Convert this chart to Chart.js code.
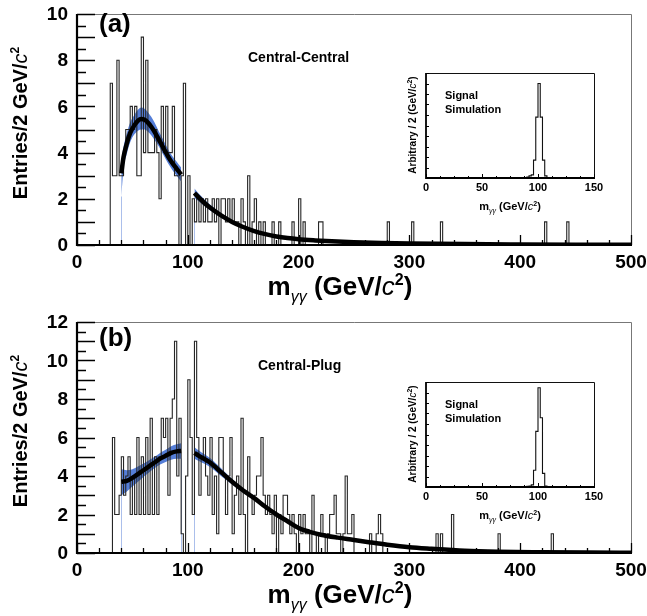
<!DOCTYPE html>
<html>
<head>
<meta charset="utf-8">
<script src="https://cdn.jsdelivr.net/npm/chart.js@4.4.0/dist/chart.umd.min.js"></script>
<style>
  html, body { margin: 0; padding: 0; background: #fff; }
  #wrap { position: relative; width: 647px; height: 616px; }
  canvas { position: absolute; }
</style>
</head>
<body>
<div id="wrap">
  <canvas id="mainA" width="647" height="308" style="left:0;top:0"></canvas>
  <canvas id="mainB" width="647" height="308" style="left:0;top:308px"></canvas>
  <canvas id="insetA" width="215" height="155" style="left:390px;top:65px"></canvas>
  <canvas id="insetB" width="215" height="155" style="left:390px;top:374px"></canvas>
</div>
<script>
// ---- data: panel (a) Central-Central, 2 GeV bins ----
const startA = 30;
const countsA = [7, 3, 3, 8, 3, 3, 4, 5, 5, 6, 5, 6, 3, 3, 9, 4, 8, 4, 4, 4,
                 5, 4, 2, 6, 4, 6, 4, 4, 6, 3, 3, 0, 3, 7, 0, 3, 0, 2, 1, 2,
                 1, 2, 1, 2, 1, 1, 2, 1, 2, 0, 2, 2, 1, 2, 1, 2, 1, 1, 0, 2,
                 1, 0, 3, 0, 1, 2, 0, 1, 0, 1, 0, 0, 0, 1, 0, 0, 1, 0, 0, 0,
                 0, 0, 1, 0, 0, 2, 0, 1, 0, 0, 0, 0, 0, 0, 1, 1];
const tailMassA = [280, 302, 328, 422, 442];
const tailCountA = [1, 1, 1, 1, 1];
const fitXA = [40, 42, 45, 48, 52, 55, 58, 61, 64, 67, 70, 74, 78, 82, 86, 90, 94, 100,
               106, 110, 115, 120, 130, 140, 150, 160, 170, 180, 190, 200, 215, 230, 250, 275, 300, 350, 400, 450, 500];
const fitYA = [3.1, 3.8, 4.4, 4.85, 5.2, 5.38, 5.45, 5.42, 5.3, 5.12, 4.9, 4.55, 4.2, 3.85, 3.55, 3.3, 3.05, null,
               2.25, 2.05, 1.82, 1.62, 1.28, 1.0, 0.78, 0.6, 0.47, 0.37, 0.3, 0.25, 0.2, 0.16, 0.12, 0.09, 0.07, 0.04, 0.025, 0.015, 0.01];
const bandXA = [40, 42, 45, 48, 52, 55, 58, 61, 64, 67, 70, 74, 78, 82, 86, 90, 94, 100, 106, 110, 120, 130, 140, 150];
const bandHiA = [3.6, 4.25, 4.85, 5.3, 5.65, 5.85, 5.95, 5.9, 5.75, 5.55, 5.3, 4.9, 4.55, 4.17, 3.85, 3.6, 3.35, null, 2.45, 2.22, 1.75, 1.37, 1.06, 0.83];
const bandLoA = [2.1, 3.3, 3.95, 4.45, 4.8, 4.95, 5.0, 5.0, 4.9, 4.75, 4.55, 4.25, 3.9, 3.55, 3.25, 3.0, 2.75, null, 2.05, 1.88, 1.5, 1.19, 0.94, 0.73];

// ---- data: panel (b) Central-Plug ----
const startB = 32;
const countsB = [6, 2, 2, 3, 5, 3, 4, 5, 2, 4, 2, 6, 2, 5, 2, 6, 2, 7, 2, 5,
                 2, 5, 7, 6, 7, 3, 7, 8, 11, 4, 7, 1, 0, 4, 9, 6, 2, 11, 6, 3,
                 5, 6, 4, 3, 6, 2, 4, 1, 6, 6, 4, 2, 4, 6, 1, 3, 4, 2, 7, 2,
                 0, 5, 3, 2, 3, 4, 4, 6, 3, 2, 3, 2, 1, 3, 0, 2, 1, 3, 3, 2,
                 1, 2, 1, 0, 2, 1, 2, 1, 1, 0, 3, 1, 0, 1, 2, 1, 0, 1, 2, 2,
                 3, 1, 1, 0, 1, 4, 1, 1, 2, 0, 0, 0, 0, 0, 0, 0, 1, 0, 0, 1,
                 2, 1];
const tailMassB = [324, 328, 338, 380, 428];
const tailCountB = [1, 1, 2, 1, 1];
const fitXB = [40, 45, 50, 55, 60, 65, 70, 75, 80, 85, 90, 94, 100,
               106, 110, 120, 130, 140, 150, 160, 170, 180, 190, 200, 210, 220, 235, 250, 265, 280, 300, 320, 350, 380, 420, 460, 500];
const fitYB = [3.7, 3.75, 3.9, 4.1, 4.3, 4.5, 4.7, 4.9, 5.05, 5.2, 5.28, 5.3, null,
               5.2, 5.05, 4.7, 4.2, 3.7, 3.25, 2.85, 2.4, 2.0, 1.65, 1.3, 1.1, 0.95, 0.8, 0.68, 0.55, 0.43, 0.3, 0.22, 0.12, 0.07, 0.04, 0.02, 0.01];
const bandXB = [40, 45, 50, 55, 60, 65, 70, 75, 80, 85, 90, 94, 100, 106, 110, 120, 130, 140, 150, 160];
const bandHiB = [4.35, 4.3, 4.35, 4.5, 4.65, 4.82, 5.0, 5.2, 5.37, 5.55, 5.65, 5.7, null, 5.5, 5.32, 4.93, 4.4, 3.84, 3.37, 2.95];
const bandLoB = [3.0, 3.2, 3.45, 3.7, 3.95, 4.18, 4.4, 4.6, 4.73, 4.85, 4.9, 4.9, null, 4.9, 4.78, 4.47, 4.0, 3.56, 3.13, 2.75];

// ---- data: signal simulation insets ----
const sigStart = 88;
const sigA = [0.005, 0.01, 0.02, 0.03, 0.17, 0.58, 0.9, 0.58, 0.17, 0.02, 0.005];
const sigB = [0.003, 0.006, 0.01, 0.02, 0.16, 0.53, 0.945, 0.66, 0.13, 0.01, 0.003];

const FAM = '"Liberation Sans", Arial, Helvetica, sans-serif';
const BAND = 'rgba(62,108,210,0.88)';

function histPoints(start, counts, tailMass, tailCount) {
  const bins = new Array(250).fill(0);
  counts.forEach((c, i) => { bins[start / 2 + i] = c; });
  tailMass.forEach((m, i) => { bins[m / 2] = tailCount[i]; });
  const pts = bins.map((c, i) => ({ x: i * 2, y: c }));
  pts.push({ x: 500, y: 0 });
  return pts;
}

function sigPoints(vals) {
  const pts = [{ x: 0, y: 0 }, { x: sigStart - 2, y: 0 }];
  vals.forEach((v, i) => pts.push({ x: sigStart + i * 2, y: v }));
  pts.push({ x: sigStart + vals.length * 2, y: 0 }, { x: 150, y: 0 });
  return pts;
}

function xy(xs, ys) {
  return xs.map((x, i) => ({ x: x, y: ys[i] }));
}

// ends of each band segment (where the fit range starts / stops)
function bandEdges(xs, ys) {
  const out = [];
  ys.forEach((v, i) => {
    if (v === null) return;
    if (i === 0 || ys[i - 1] === null) out.push({ x: xs[i], y: v });
    else if (ys[i + 1] === null) out.push({ x: xs[i], y: v });
  });
  return out;
}

// draw text made of pieces with different fonts / offsets
function richText(ctx, parts, x, y, align) {
  let w = 0;
  parts.forEach(p => { ctx.font = p[1]; w += ctx.measureText(p[0]).width; });
  let cx = align === 'center' ? x - w / 2 : x;
  ctx.textAlign = 'left';
  ctx.textBaseline = 'alphabetic';
  parts.forEach(p => {
    ctx.font = p[1];
    ctx.fillText(p[0], cx, y + (p[2] || 0));
    cx += ctx.measureText(p[0]).width;
  });
}

function massTitle(size) {
  const s = Math.round(size * 0.62);
  return [
    ['m', 'bold ' + size + 'px ' + FAM],
    ['\u03B3\u03B3', 'italic ' + s + 'px ' + FAM, size * 0.28],
    [' (GeV/', 'bold ' + size + 'px ' + FAM],
    ['c', 'italic ' + size + 'px ' + FAM],
    ['2', 'bold ' + s + 'px ' + FAM, -size * 0.38],
    [')', 'bold ' + size + 'px ' + FAM]
  ];
}

// ROOT-like frame, ticks and labels
const rootFrame = {
  id: 'rootFrame',
  beforeDatasetsDraw(chart, args, o) {
    if (!o.edges) return;
    const { ctx, scales: { x, y } } = chart;
    ctx.save();
    ctx.strokeStyle = 'rgba(150,175,230,0.8)';
    ctx.lineWidth = 1;
    ctx.beginPath();
    o.edges.forEach(e => {
      const px = Math.round(x.getPixelForValue(e.x)) + 0.5;
      ctx.moveTo(px, y.getPixelForValue(0));
      ctx.lineTo(px, y.getPixelForValue(e.y));
    });
    ctx.stroke();
    ctx.restore();
  },
  afterDatasetsDraw(chart, args, o) {
    const { ctx, chartArea: a, scales: { x, y } } = chart;
    ctx.save();
    ctx.strokeStyle = o.frameColor;
    ctx.lineWidth = 1;
    ctx.beginPath();
    ctx.moveTo(a.left, a.top + 0.5);
    ctx.lineTo(a.right + 0.5, a.top + 0.5);
    ctx.lineTo(a.right + 0.5, a.bottom);
    ctx.stroke();
    ctx.strokeStyle = '#000';
    ctx.lineWidth = o.tickWidth;
    ctx.beginPath();
    for (let k = 0; k * o.yStep <= y.max + 1e-9; k++) {
      const v = k * o.yStep;
      const py = Math.round(y.getPixelForValue(v)) + 0.5;
      const len = (k % o.yMajorEvery === 0) ? o.yLong : o.yShort;
      ctx.moveTo(a.left, py);
      ctx.lineTo(a.left + len, py);
    }
    for (let k = 0; k * o.xStep <= x.max + 1e-9; k++) {
      const v = k * o.xStep;
      const px = Math.round(x.getPixelForValue(v)) + 0.5;
      const len = (k % o.xMajorEvery === 0) ? o.xLong : o.xShort;
      ctx.moveTo(px, a.bottom);
      ctx.lineTo(px, a.bottom - len);
    }
    ctx.stroke();
    ctx.lineWidth = o.axisWidth;
    ctx.beginPath();
    ctx.moveTo(a.left, a.top);
    ctx.lineTo(a.left, a.bottom);
    ctx.lineTo(a.right + 1, a.bottom);
    ctx.stroke();
    ctx.restore();
  },
  afterDraw(chart, args, o) {
    const { ctx, chartArea: a, scales: { x, y } } = chart;
    ctx.save();
    ctx.fillStyle = '#000';
    // tick labels from the scales' own ticks
    ctx.font = 'bold ' + o.tickFont + 'px ' + FAM;
    ctx.textAlign = 'center';
    ctx.textBaseline = 'middle';
    x.ticks.forEach(t => ctx.fillText(String(t.value), x.getPixelForValue(t.value), a.bottom + o.xLabelGap));
    if (o.yLabels) {
      ctx.textAlign = 'right';
      y.ticks.forEach(t => ctx.fillText(String(t.value), a.left - o.yLabelGap, y.getPixelForValue(t.value) + 1));
    }
    (o.texts || []).forEach(t => {
      ctx.font = t.font;
      ctx.textAlign = 'left';
      ctx.textBaseline = 'alphabetic';
      ctx.fillText(t.text, t.x, t.y);
    });
    if (o.xTitle) {
      richText(ctx, massTitle(o.xTitle.size), o.xTitle.x, o.xTitle.y, 'center');
    }
    if (o.yTitle) {
      ctx.save();
      ctx.translate(o.yTitle.x, o.yTitle.y);
      ctx.rotate(-Math.PI / 2);
      richText(ctx, o.yTitle.parts, 0, 0, 'center');
      ctx.restore();
    }
    ctx.restore();
  }
};

function mainChart(id, hist, fitX, fitY, bandX, hi, lo, ymax, label, labelY, channel, channelX) {
  return new Chart(document.getElementById(id), {
    type: 'line',
    data: {
      datasets: [
        { data: xy(fitX, fitY), borderColor: '#000', borderWidth: 4.5, pointRadius: 0, fill: false,
          cubicInterpolationMode: 'monotone', spanGaps: false },
        { data: hist, stepped: true, borderColor: '#262626', borderWidth: 1.1, pointRadius: 0, fill: false },
        { data: xy(bandX, hi), borderWidth: 0, borderColor: 'rgba(0,0,0,0)', pointRadius: 0,
          backgroundColor: BAND, fill: '+1', cubicInterpolationMode: 'monotone' },
        { data: xy(bandX, lo), borderWidth: 0, borderColor: 'rgba(0,0,0,0)', pointRadius: 0, fill: false,
          cubicInterpolationMode: 'monotone' }
      ]
    },
    options: {
      responsive: false,
      animation: false,
      layout: { padding: { top: 14, right: 16, left: 0, bottom: 0 } },
      plugins: {
        legend: { display: false },
        tooltip: { enabled: false },
        rootFrame: {
          frameColor: '#777', tickWidth: 1.3, axisWidth: 2.2,
          yStep: 0.5, yMajorEvery: 2, yLong: 18, yShort: 9,
          xStep: 20, xMajorEvery: 5, xLong: 10, xShort: 5,
          tickFont: 19, xLabelGap: 18, yLabels: true, yLabelGap: 9,
          edges: bandEdges(bandX, lo),
          texts: [
            { text: label, x: 99, y: labelY, font: 'bold 26px ' + FAM },
            { text: channel, x: channelX, y: 62, font: 'bold 14px ' + FAM }
          ],
          xTitle: { size: 26, x: 340, y: 295 },
          yTitle: { x: 27, y: 123, parts: [
            ['Entries/2 GeV/', 'bold 20px ' + FAM],
            ['c', 'italic 20px ' + FAM],
            ['2', 'bold 12px ' + FAM, -8]
          ] }
        }
      },
      scales: {
        x: {
          type: 'linear', min: 0, max: 500,
          grid: { display: false, drawTicks: false }, border: { display: false },
          ticks: { display: false, stepSize: 100 },
          afterFit: s => { s.height = 63; }
        },
        y: {
          min: 0, max: ymax,
          grid: { display: false, drawTicks: false }, border: { display: false },
          ticks: { display: false, stepSize: 2 },
          afterFit: s => { s.width = 77; }
        }
      }
    },
    plugins: [rootFrame]
  });
}

function insetChart(id, vals) {
  return new Chart(document.getElementById(id), {
    type: 'line',
    data: {
      datasets: [
        { data: sigPoints(vals), stepped: true, borderColor: '#111', borderWidth: 1.1, pointRadius: 0, fill: false }
      ]
    },
    options: {
      responsive: false,
      animation: false,
      layout: { padding: { top: 8, right: 11, left: 0, bottom: 0 } },
      plugins: {
        legend: { display: false },
        tooltip: { enabled: false },
        rootFrame: {
          frameColor: '#111', tickWidth: 1, axisWidth: 1.8,
          yStep: 0.1, yMajorEvery: 100, yLong: 3, yShort: 3,
          xStep: 12.5, xMajorEvery: 4, xLong: 4, xShort: 2,
          tickFont: 11, xLabelGap: 10, yLabels: false,
          texts: [
            { text: 'Signal', x: 55, y: 34, font: 'bold 11px ' + FAM },
            { text: 'Simulation', x: 55, y: 48, font: 'bold 11px ' + FAM }
          ],
          xTitle: { size: 11, x: 120, y: 145 },
          yTitle: { x: 26, y: 60, parts: [
            ['Arbitrary / 2 (GeV/', 'bold 10px ' + FAM],
            ['c', 'italic 10px ' + FAM],
            ['2', 'bold 7px ' + FAM, -4],
            [')', 'bold 10px ' + FAM]
          ] }
        }
      },
      scales: {
        x: {
          type: 'linear', min: 0, max: 150,
          grid: { display: false, drawTicks: false }, border: { display: false },
          ticks: { display: false, stepSize: 50 },
          afterFit: s => { s.height = 42; }
        },
        y: {
          min: 0, max: 1,
          grid: { display: false, drawTicks: false }, border: { display: false },
          ticks: { display: false },
          afterFit: s => { s.width = 36; }
        }
      }
    },
    plugins: [rootFrame]
  });
}

mainChart('mainA', histPoints(startA, countsA, tailMassA, tailCountA),
          fitXA, fitYA, bandXA, bandHiA, bandLoA,
          10, '(a)', 32, 'Central-Central', 248);
mainChart('mainB', histPoints(startB, countsB, tailMassB, tailCountB),
          fitXB, fitYB, bandXB, bandHiB, bandLoB,
          12, '(b)', 38, 'Central-Plug', 258);
insetChart('insetA', sigA);
insetChart('insetB', sigB);
</script>
</body>
</html>
